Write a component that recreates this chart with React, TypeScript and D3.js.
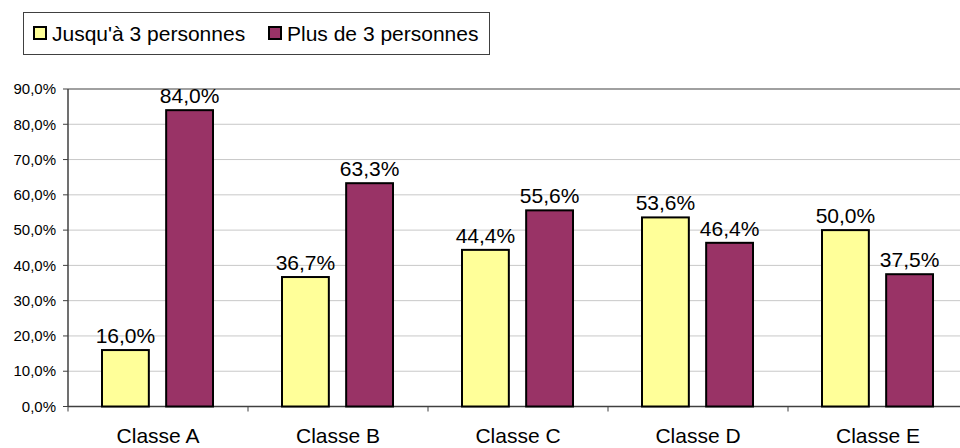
import React from "react";
import * as d3 from "d3";

const categories = ["Classe A", "Classe B", "Classe C", "Classe D", "Classe E"];
const seriesNames = ["Jusqu'à 3 personnes", "Plus de 3 personnes"];
const upTo3 = [16.0, 36.7, 44.4, 53.6, 50.0];
const moreThan3 = [84.0, 63.3, 55.6, 46.4, 37.5];
const yTicks = [0, 10, 20, 30, 40, 50, 60, 70, 80, 90];
const colors = ["#FFFF99", "#993366"];

const fmt = (v: number) => v.toFixed(1).replace(".", ",") + "%";

export default function App() {
  const W = 960, H = 448;
  const left = 68, right = 968, top = 89, bottom = 406.5;
  const x = d3.scaleBand<string>().domain(categories).range([left, right]).paddingInner(0).paddingOuter(0);
  const inner = d3.scaleBand<number>().domain([0, 1]).range([34, 145]).paddingInner(0.27);
  const y = d3.scaleLinear().domain([0, 90]).range([bottom, top]);
  const series = [upTo3, moreThan3];
  const font = "Arial, 'Liberation Sans', sans-serif";

  return (
    <svg width={W} height={H} style={{ position: "absolute", left: 0, top: 0 }} fontFamily={font}>
      <rect width={W} height={H} fill="#fff" />
      {yTicks.map((t) => (
        <line key={t} x1={left} x2={right} y1={y(t)} y2={y(t)} stroke={t === 90 ? "#808080" : "#c8c8c8"} strokeWidth={t === 90 ? 1.5 : 1} />
      ))}
      <line x1={left} x2={left} y1={top} y2={bottom} stroke="#404040" strokeWidth={1.5} />
      <line x1={left} x2={right} y1={bottom} y2={bottom} stroke="#404040" strokeWidth={1.5} />
      {yTicks.map((t) => (
        <g key={"yt" + t}>
          <line x1={left - 5} x2={left} y1={y(t)} y2={y(t)} stroke="#404040" />
          <text x={56} y={y(t)} dy="0.35em" textAnchor="end" fontSize={15} fill="#000">{fmt(t)}</text>
        </g>
      ))}
      {categories.map((c) => (
        <line key={"xt" + c} x1={x(c)!} x2={x(c)!} y1={bottom} y2={bottom + 5} stroke="#404040" />
      ))}
      {categories.map((c) => (
        <text key={"xl" + c} x={x(c)! + x.bandwidth() / 2} y={443} textAnchor="middle" fontSize={21} fill="#000">{c}</text>
      ))}
      {categories.map((c, i) =>
        series.map((s, k) => {
          const bx = x(c)! + inner(k)!;
          const bw = inner.bandwidth();
          return (
            <g key={c + k}>
              <rect x={bx} y={y(s[i])} width={bw} height={bottom - y(s[i])} fill={colors[k]} stroke="#000" strokeWidth={2} />
              <text x={bx + bw / 2} y={y(s[i]) - 7} textAnchor="middle" fontSize={21} fill="#000">{fmt(s[i])}</text>
            </g>
          );
        })
      )}
      <rect x={23.5} y={12.5} width={466} height={42} fill="#fff" stroke="#404040" strokeWidth={1} />
      {seriesNames.map((n, k) => {
        const lx = k === 0 ? 34 : 269;
        return (
          <g key={n}>
            <rect x={lx} y={27} width={12} height={12} fill={colors[k]} stroke="#000" strokeWidth={2} />
            <text x={lx + 18} y={33.5} dy="0.35em" fontSize={21} fill="#000">{n}</text>
          </g>
        );
      })}
    </svg>
  );
}
